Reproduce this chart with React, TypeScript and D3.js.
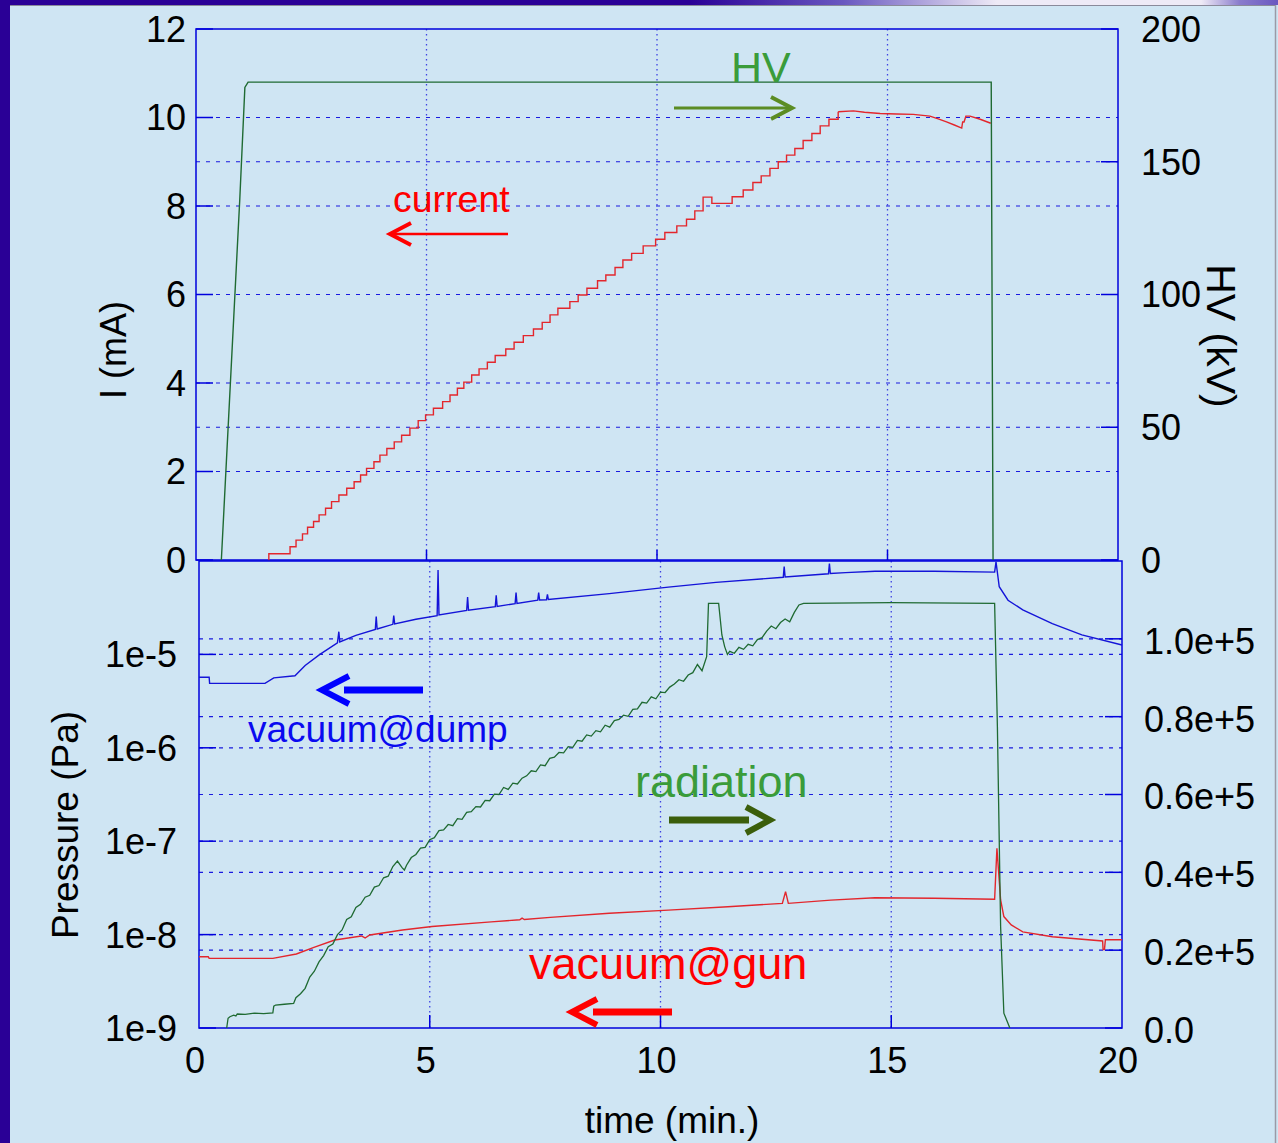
import React from 'react';
import * as d3 from 'd3';

// ---------- data ----------
const xTicks = [0, 5, 10, 15, 20];
const currentTicks = [0, 2, 4, 6, 8, 10, 12];
const hvTicks = [0, 50, 100, 150, 200];
const pressureTicks = [1e-9, 1e-8, 1e-7, 1e-6, 1e-5];
const pressureTickLabels = ['1e-9', '1e-8', '1e-7', '1e-6', '1e-5'];
const radiationTicks = [0, 20000, 40000, 60000, 80000, 100000];
const radiationTickLabels = ['0.0', '0.2e+5', '0.4e+5', '0.6e+5', '0.8e+5', '1.0e+5'];

// HV (kV) vs time (min)
const hvData: [number, number][] = [
  [0.55, 0], [0.95, 136], [1.06, 178], [1.13, 180], [17.25, 180], [17.29, 0],
];

// current (mA) staircase, drawn step-after
const currentSteps: [number, number][] = [
  [1.57, 0], [1.58, 0.14], [2.04, 0.3], [2.17, 0.45], [2.31, 0.59], [2.42, 0.74], [2.55, 0.87],
  [2.67, 1.02], [2.81, 1.17], [2.94, 1.32], [3.1, 1.47], [3.27, 1.62], [3.43, 1.77], [3.57, 1.92],
  [3.7, 2.07], [3.86, 2.22], [3.99, 2.37], [4.14, 2.52], [4.3, 2.67], [4.46, 2.82], [4.64, 2.98],
  [4.82, 3.15], [4.98, 3.28], [5.15, 3.43], [5.35, 3.58], [5.51, 3.73], [5.67, 3.88], [5.81, 4.02],
  [5.98, 4.18], [6.14, 4.32], [6.32, 4.47], [6.49, 4.62], [6.72, 4.77], [6.9, 4.92], [7.1, 5.07],
  [7.32, 5.22], [7.51, 5.37], [7.68, 5.54], [7.85, 5.69], [8.11, 5.84], [8.29, 5.99], [8.48, 6.14],
  [8.71, 6.31], [8.89, 6.44], [9.09, 6.61], [9.26, 6.78], [9.45, 6.93], [9.7, 7.1], [9.97, 7.25],
  [10.17, 7.4], [10.43, 7.55], [10.64, 7.7], [10.82, 7.89], [11.0, 8.2], [11.19, 8.06], [11.63, 8.21],
  [11.87, 8.36], [12.08, 8.53], [12.26, 8.68], [12.45, 8.85], [12.63, 9.0], [12.81, 9.15], [12.99, 9.3],
  [13.17, 9.48], [13.36, 9.64], [13.54, 9.81], [13.73, 9.96], [13.93, 10.13],
];
// current tail after reaching the maximum
const currentTail: [number, number][] = [
  [13.93, 10.13], [14.26, 10.15], [14.5, 10.12], [14.84, 10.09], [15.2, 10.08], [15.56, 10.07],
  [15.92, 10.03], [16.1, 9.97], [16.28, 9.9], [16.45, 9.83], [16.61, 9.76], [16.63, 9.9],
  [16.66, 9.9], [16.7, 10.03], [16.79, 10.03], [17.01, 9.96], [17.24, 9.87],
];

// vacuum @ dump (Pa)
const dumpData: [number, number][] = [
  [0.0, 5.7e-6], [0.22, 5.7e-6], [0.23, 4.9e-6], [1.43, 4.9e-6], [1.62, 5.6e-6], [2.08, 5.9e-6],
  [2.3, 7.6e-6], [2.62, 1.0e-5], [3.0, 1.33e-5], [3.03, 1.75e-5], [3.05, 1.36e-5], [3.4, 1.6e-5],
  [3.82, 1.85e-5], [3.84, 2.55e-5], [3.86, 1.87e-5], [4.2, 2.1e-5], [4.22, 2.6e-5], [4.24, 2.12e-5],
  [4.7, 2.38e-5], [5.16, 2.6e-5], [5.18, 8.0e-5], [5.2, 2.65e-5], [5.8, 2.95e-5], [5.82, 4.1e-5],
  [5.84, 2.97e-5], [6.42, 3.25e-5], [6.44, 4.3e-5], [6.46, 3.27e-5], [6.85, 3.5e-5], [6.87, 4.6e-5],
  [6.89, 3.52e-5], [7.34, 3.8e-5], [7.36, 4.6e-5], [7.38, 3.82e-5], [7.53, 3.85e-5], [7.55, 4.4e-5],
  [7.57, 3.87e-5], [8.89, 4.47e-5], [10.17, 5.25e-5], [11.2, 5.9e-5], [12.66, 6.7e-5], [12.68, 8.7e-5],
  [12.7, 6.75e-5], [13.64, 7.3e-5], [13.66, 9.4e-5], [13.68, 7.35e-5], [14.01, 7.5e-5], [14.65, 7.76e-5],
  [15.93, 7.76e-5], [17.24, 7.6e-5], [17.27, 9.8e-5], [17.34, 5.3e-5], [17.53, 3.8e-5], [17.85, 3.0e-5],
  [18.49, 2.14e-5], [19.13, 1.62e-5], [20.0, 1.26e-5],
];

// vacuum @ gun (Pa)
const gunData: [number, number][] = [
  [0.0, 5.8e-9], [0.2, 5.8e-9], [0.22, 5.57e-9], [1.6, 5.57e-9], [2.11, 6.2e-9], [2.49, 7.3e-9],
  [2.94, 8.75e-9], [3.52, 9.66e-9], [3.6, 9.2e-9], [3.7, 9.9e-9], [4.41, 1.12e-8], [5.05, 1.22e-8],
  [6.33, 1.37e-8], [6.95, 1.44e-8], [7.0, 1.5e-8], [7.05, 1.45e-8], [7.61, 1.53e-8], [8.89, 1.69e-8],
  [10.17, 1.83e-8], [11.46, 1.99e-8], [12.64, 2.16e-8], [12.71, 2.88e-8], [12.77, 2.16e-8],
  [13.69, 2.34e-8], [14.65, 2.48e-8], [15.93, 2.45e-8], [17.24, 2.39e-8], [17.29, 8.4e-8],
  [17.37, 2.35e-8], [17.44, 1.56e-8], [17.6, 1.27e-8], [17.85, 1.07e-8], [18.49, 9.5e-9],
  [19.58, 8.55e-9], [19.59, 6.9e-9], [19.62, 6.9e-9], [19.64, 8.8e-9], [20.0, 8.8e-9],
];

// radiation (right axis)
const radiationData: [number, number][] = [
  [0.6, 0], [0.63, 2500], [0.67, 2900], [0.75, 3300], [0.8, 3100], [0.83, 3600], [1.0, 3500],
  [1.2, 3800], [1.4, 3700], [1.6, 3900], [1.62, 5600], [1.66, 5900], [1.85, 6100], [2.05, 6300],
  [2.1, 7800], [2.2, 8800], [2.3, 10200], [2.4, 13100], [2.5, 14600], [2.6, 17000], [2.7, 18600],
  [2.8, 20900], [2.9, 21600], [3.0, 24000], [3.1, 25200], [3.2, 27900], [3.3, 28600], [3.4, 31000],
  [3.5, 31800], [3.6, 33600], [3.7, 34100], [3.8, 36200], [3.9, 36600], [4.0, 38600], [4.1, 39000],
  [4.2, 41500], [4.3, 42900], [4.4, 41200], [4.45, 40600], [4.5, 41900], [4.6, 43800], [4.7, 44600],
  [4.8, 46200], [4.9, 46400], [5.0, 48400], [5.1, 48900], [5.2, 50700], [5.3, 50900], [5.4, 52300],
  [5.5, 52000], [5.6, 53800], [5.7, 53600], [5.8, 55400], [5.9, 55600], [6.0, 56900], [6.1, 56800],
  [6.2, 58500], [6.3, 58400], [6.4, 60100], [6.5, 60000], [6.6, 61800], [6.7, 61300], [6.8, 62900],
  [6.9, 62700], [7.0, 64200], [7.1, 64800], [7.2, 66100], [7.3, 65900], [7.4, 67600], [7.5, 67400],
  [7.6, 69300], [7.7, 69600], [7.8, 70800], [7.9, 70700], [8.0, 72300], [8.1, 72100], [8.2, 73900],
  [8.3, 73700], [8.4, 75300], [8.5, 75000], [8.6, 76400], [8.7, 76100], [8.8, 77800], [8.9, 77300],
  [9.0, 79000], [9.1, 79300], [9.2, 80400], [9.3, 80100], [9.4, 81900], [9.5, 82000], [9.6, 83700],
  [9.7, 83500], [9.8, 85100], [9.9, 84600], [10.0, 86300], [10.1, 86200], [10.2, 87600], [10.3, 88400],
  [10.4, 89500], [10.5, 89100], [10.6, 90700], [10.7, 91300], [10.8, 93400], [10.9, 91800],
  [11.0, 95400], [11.04, 109100], [11.26, 109100], [11.33, 101000], [11.39, 98000], [11.45, 96000],
  [11.5, 96800], [11.6, 96300], [11.7, 97800], [11.8, 97300], [11.9, 98600], [12.0, 98200],
  [12.1, 99800], [12.2, 100300], [12.3, 102000], [12.4, 103300], [12.5, 102600], [12.6, 104200],
  [12.7, 105100], [12.8, 104400], [12.9, 106800], [13.0, 108700], [13.1, 109100],
  [15.0, 109300], [17.24, 109100], [17.3, 77400], [17.37, 26000], [17.44, 3800], [17.57, 0],
];

// ---------- layout ----------
const W = 1278;
const H = 1143;
const FONT = '"Liberation Sans", Arial, Helvetica, sans-serif';
const AXIS = '#0000dd';
const GRID = '#1a1ae0';

export default function App() {
  const xTop = d3.scaleLinear().domain([0, 20]).range([196, 1118]);
  const yCur = d3.scaleLinear().domain([0, 12]).range([560, 29]);
  const yHV = d3.scaleLinear().domain([0, 200]).range([560, 29]);
  const xBot = d3.scaleLinear().domain([0, 20]).range([199, 1122]);
  const yP = d3.scaleLog().domain([1e-9, 1e-4]).range([1028, 561]);
  const yRad = d3.scaleLinear().domain([0, 120000]).range([1028, 561]);

  const hvLine = d3.line<[number, number]>().x(d => xTop(d[0])).y(d => yHV(d[1]));
  const curStepLine = d3.line<[number, number]>().x(d => xTop(d[0])).y(d => yCur(d[1])).curve(d3.curveStepAfter);
  const curLine = d3.line<[number, number]>().x(d => xTop(d[0])).y(d => yCur(d[1]));
  const pLine = d3.line<[number, number]>().x(d => xBot(d[0])).y(d => yP(d[1]));
  const radLine = d3.line<[number, number]>().x(d => xBot(d[0])).y(d => yRad(d[1]));

  const tx0 = xTop(0), tx1 = xTop(20), ty0 = yCur(12), ty1 = yCur(0);
  const bx0 = xBot(0), bx1 = xBot(20), by0 = yP(1e-4), by1 = yP(1e-9);

  const inner = [5, 10, 15];

  return (
    <div style={{ position: 'absolute', left: 0, top: 0 }}>
      <svg width={W} height={H} style={{ display: 'block' }} fontFamily={FONT}>
        <defs>
          <linearGradient id="topbar" x1="0" x2="1" y1="0" y2="0">
            <stop offset="0" stopColor="#2a0096" />
            <stop offset="0.54" stopColor="#2a0096" />
            <stop offset="0.66" stopColor="#6a58c0" />
            <stop offset="0.78" stopColor="#eeeaf6" />
            <stop offset="0.94" stopColor="#eeeaf6" />
            <stop offset="0.97" stopColor="#8a7ccc" />
            <stop offset="1" stopColor="#6a58c0" />
          </linearGradient>
        </defs>
        <rect x={0} y={0} width={W} height={H} fill="#cfe5f3" />
        <rect x={0} y={0} width={W} height={5} fill="url(#topbar)" />
        <rect x={0} y={0} width={10} height={H} fill="#2a0096" />
        <line x1={10} x2={1276} y1={5.5} y2={5.5} stroke="#8a8a9a" strokeWidth={1} />
        <line x1={1275.5} x2={1275.5} y1={5} y2={H} stroke="#9a9aa6" strokeWidth={1.5} />

        {/* ---------- top panel grid ---------- */}
        {inner.map(t => (
          <line key={'tv' + t} x1={xTop(t)} x2={xTop(t)} y1={ty0} y2={ty1}
            stroke={GRID} strokeWidth={1.3} strokeDasharray="1.5,3.5" opacity={0.8} />
        ))}
        {currentTicks.filter(v => v > 0 && v < 12).map(v => (
          <line key={'tc' + v} x1={tx0} x2={tx1} y1={yCur(v)} y2={yCur(v)}
            stroke={GRID} strokeWidth={1.2} strokeDasharray="4,6" />
        ))}
        {hvTicks.filter(v => v > 0 && v < 200).map(v => (
          <line key={'th' + v} x1={tx0} x2={tx1} y1={yHV(v)} y2={yHV(v)}
            stroke={GRID} strokeWidth={1.2} strokeDasharray="4,6" />
        ))}
        {/* top panel ticks */}
        {currentTicks.map(v => (
          <line key={'tck' + v} x1={tx0} x2={tx0 + 17} y1={yCur(v)} y2={yCur(v)} stroke={AXIS} strokeWidth={1.5} />
        ))}
        {hvTicks.map(v => (
          <line key={'thk' + v} x1={tx1 - 17} x2={tx1} y1={yHV(v)} y2={yHV(v)} stroke={AXIS} strokeWidth={1.5} />
        ))}
        {inner.map(t => (
          <line key={'txk' + t} x1={xTop(t)} x2={xTop(t)} y1={ty1 - 10} y2={ty1} stroke={AXIS} strokeWidth={1.5} />
        ))}
        <rect x={tx0} y={ty0} width={tx1 - tx0} height={ty1 - ty0} fill="none" stroke={AXIS} strokeWidth={1.5} />

        {/* top panel data */}
        <path d={curStepLine(currentSteps) || ''} fill="none" stroke="#e3262c" strokeWidth={1.4} />
        <path d={curLine(currentTail) || ''} fill="none" stroke="#e3262c" strokeWidth={1.4} />
        <path d={hvLine(hvData) || ''} fill="none" stroke="#1f6a32" strokeWidth={1.4} />

        {/* top panel annotations */}
        <text x={731} y={82} fontSize={43} fill="#3a9c3a">HV</text>
        <line x1={674} x2={788} y1={108} y2={108} stroke="#5b8c23" strokeWidth={3} />
        <path d="M771,97 L792,108 L771,119" fill="none" stroke="#5b8c23" strokeWidth={4} />
        <text x={393} y={212} fontSize={37.5} fill="#ff0000">current</text>
        <line x1={393} x2={508} y1={234} y2={234} stroke="#ff0000" strokeWidth={2.5} />
        <path d="M411,223 L390,234 L411,245" fill="none" stroke="#ff0000" strokeWidth={4} />

        {/* ---------- bottom panel grid ---------- */}
        {inner.map(t => (
          <line key={'bv' + t} x1={xBot(t)} x2={xBot(t)} y1={by0} y2={by1}
            stroke={GRID} strokeWidth={1.3} strokeDasharray="1.5,3.5" opacity={0.8} />
        ))}
        {pressureTicks.filter(v => v > 1e-9).map(v => (
          <line key={'bp' + v} x1={bx0} x2={bx1} y1={yP(v)} y2={yP(v)}
            stroke={GRID} strokeWidth={1.2} strokeDasharray="4,6" />
        ))}
        {radiationTicks.filter(v => v > 0).map(v => (
          <line key={'br' + v} x1={bx0} x2={bx1} y1={yRad(v)} y2={yRad(v)}
            stroke={GRID} strokeWidth={1.2} strokeDasharray="4,6" />
        ))}
        {pressureTicks.map(v => (
          <line key={'bpk' + v} x1={bx0} x2={bx0 + 17} y1={yP(v)} y2={yP(v)} stroke={AXIS} strokeWidth={1.5} />
        ))}
        {radiationTicks.map(v => (
          <line key={'brk' + v} x1={bx1 - 17} x2={bx1} y1={yRad(v)} y2={yRad(v)} stroke={AXIS} strokeWidth={1.5} />
        ))}
        {inner.map(t => (
          <line key={'bxk' + t} x1={xBot(t)} x2={xBot(t)} y1={by1 - 13} y2={by1} stroke={AXIS} strokeWidth={1.5} />
        ))}
        <rect x={bx0} y={by0} width={bx1 - bx0} height={by1 - by0} fill="none" stroke={AXIS} strokeWidth={1.5} />

        {/* bottom panel data */}
        <path d={pLine(dumpData) || ''} fill="none" stroke="#1414d8" strokeWidth={1.4} />
        <path d={pLine(gunData) || ''} fill="none" stroke="#e3262c" strokeWidth={1.4} />
        <path d={radLine(radiationData) || ''} fill="none" stroke="#1f6a32" strokeWidth={1.3} />

        {/* bottom panel annotations */}
        <rect x={344} y={686.5} width={79} height={7} fill="#0000ff" />
        <path d="M349,676 L322,690 L349,704" fill="none" stroke="#0000ff" strokeWidth={6} />
        <text x={248} y={742} fontSize={37} fill="#0a0af0">vacuum@dump</text>
        <text x={635} y={797} fontSize={45} fill="#3a9c3a">radiation</text>
        <rect x={669} y={816.5} width={80} height={7} fill="#3b5e0b" />
        <path d="M746,807 L770,820 L746,833" fill="none" stroke="#3b5e0b" strokeWidth={6} />
        <text x={529} y={979} fontSize={45} fill="#ff0000">vacuum@gun</text>
        <rect x={593} y={1008.5} width={79} height={7} fill="#ff0000" />
        <path d="M597,999 L572,1012 L597,1025" fill="none" stroke="#ff0000" strokeWidth={6} />

        {/* ---------- tick labels ---------- */}
        {currentTicks.map(v => (
          <text key={'lc' + v} x={186} y={yCur(v)} dy="0.36em" textAnchor="end" fontSize={36} fill="#000">{v}</text>
        ))}
        {hvTicks.map(v => (
          <text key={'lh' + v} x={1141} y={yHV(v)} dy="0.36em" textAnchor="start" fontSize={36} fill="#000">{v}</text>
        ))}
        {pressureTicks.map((v, i) => (
          <text key={'lp' + v} x={177} y={yP(v)} dy="0.36em" textAnchor="end" fontSize={36} fill="#000">{pressureTickLabels[i]}</text>
        ))}
        {radiationTicks.map((v, i) => (
          <text key={'lr' + v} x={1144} y={yRad(v) + 2} dy="0.36em" textAnchor="start" fontSize={36} fill="#000">{radiationTickLabels[i]}</text>
        ))}
        {xTicks.map(t => (
          <text key={'lx' + t} x={xBot(t) - 4} y={1073} textAnchor="middle" fontSize={36} fill="#000">{t}</text>
        ))}

        {/* ---------- axis titles ---------- */}
        <text transform="translate(126,350) rotate(-90)" textAnchor="middle" fontSize={36} fill="#000">I (mA)</text>
        <text transform="translate(1207,336) rotate(90)" textAnchor="middle" fontSize={41} fill="#000">HV (kV)</text>
        <text transform="translate(78,825) rotate(-90)" textAnchor="middle" fontSize={37} fill="#000">Pressure (Pa)</text>
        <text x={672} y={1133} textAnchor="middle" fontSize={37} fill="#000">time (min.)</text>
      </svg>
    </div>
  );
}
